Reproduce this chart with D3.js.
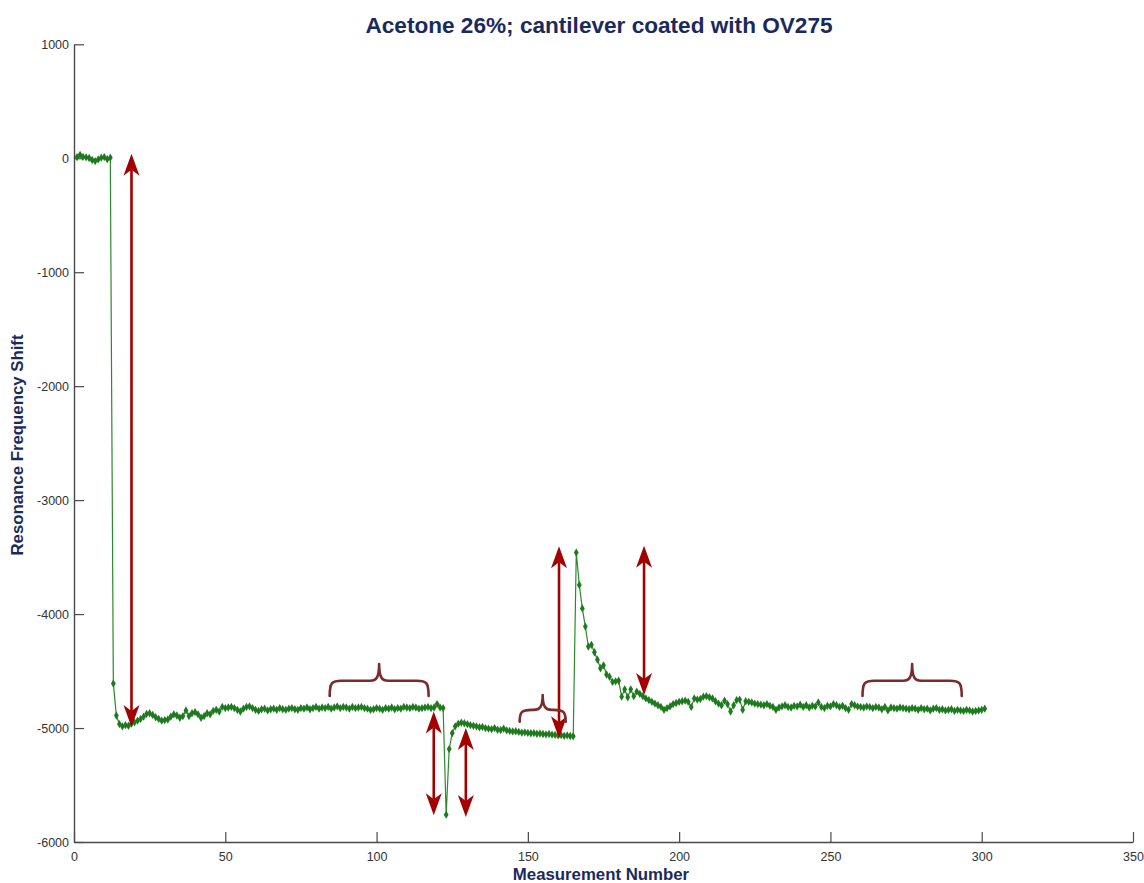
<!DOCTYPE html>
<html>
<head>
<meta charset="utf-8">
<script src="https://cdn.jsdelivr.net/npm/d3@7"></script>
<style>
  html, body { margin: 0; padding: 0; background: #fff; }
  svg { display: block; }
  text { font-family: "Liberation Sans", Arial, sans-serif; }
</style>
</head>
<body>
<svg id="chart" width="1144" height="883"></svg>
<script>
// Resonance frequency shift, one value per measurement (starting at measurement 1)
const shiftValues = [].concat(
  [10, 30, 12, 8, 2, -15, -25, -10, 5, 10, -8, 5],
  [-4610, -4890, -4965, -4985, -4975, -4980, -4960, -4950],
  [-4935, -4920, -4900, -4875, -4870, -4885, -4905, -4920, -4935, -4930],
  [-4925, -4900, -4880, -4890, -4910, -4895, -4845, -4895, -4870, -4860],
  [-4880, -4910, -4895, -4870, -4880, -4850, -4840, -4855, -4815, -4825],
  [-4820, -4815, -4825, -4840, -4855, -4830, -4815, -4810, -4825, -4840],
  [-4850, -4835, -4830, -4845, -4835, -4830, -4840, -4825, -4835, -4840],
  [-4830, -4825, -4835, -4840, -4825, -4830, -4820, -4835, -4825, -4815],
  [-4830, -4820, -4825, -4815, -4830, -4820, -4810, -4825, -4815, -4820],
  [-4830, -4815, -4825, -4820, -4815, -4825, -4830, -4840, -4835, -4825],
  [-4830, -4840, -4825, -4830, -4820, -4835, -4825, -4830, -4815, -4820],
  [-4825, -4815, -4820, -4830, -4825, -4820, -4815, -4825, -4820, -4790, -4820],
  [-4825, -5760, -5185, -5045, -4985, -4962, -4953, -4958, -4965],
  [-4975, -4980, -4985, -4993, -4990, -5000, -5005, -5010, -5000, -5015],
  [-5017, -5005, -5020, -5025, -5030, -5028, -5034, -5040, -5038, -5042],
  [-5046, -5044, -5050, -5048, -5052, -5055, -5052, -5058, -5060, -5065],
  [-5062, -5068, -5065, -5070, -5072],
  [-3460],
  [-3745, -3950, -4110, -4285, -4270, -4335, -4400, -4475, -4450, -4530, -4550, -4595, -4590, -4585],
  [-4725, -4660, -4730, -4660, -4720, -4680, -4700, -4720, -4740, -4755],
  [-4770, -4785, -4800, -4815, -4840, -4825, -4810, -4790, -4780, -4770],
  [-4765, -4760, -4770, -4815, -4740, -4750, -4745, -4725, -4720, -4730],
  [-4740, -4765, -4785, -4800, -4760, -4790, -4855, -4800, -4755, -4750],
  [-4840, -4765, -4770, -4775, -4785, -4790, -4795, -4800, -4790, -4805],
  [-4815, -4840, -4820, -4810, -4800, -4815, -4820, -4805, -4810, -4795],
  [-4815, -4800, -4820, -4805, -4810, -4775, -4815, -4825, -4805, -4810],
  [-4790, -4800, -4815, -4805, -4825, -4840, -4790, -4800, -4810, -4815],
  [-4820, -4810, -4815, -4825, -4815, -4820, -4835, -4815, -4845, -4820],
  [-4825, -4830, -4820, -4825, -4830, -4835, -4825, -4830, -4840, -4825],
  [-4835, -4830, -4845, -4830, -4825, -4840, -4835, -4845, -4840, -4835],
  [-4850, -4840, -4845, -4850, -4840, -4845, -4855, -4850, -4845, -4840, -4830]
);
const measurementNumbers = shiftValues.map((_, i) => i + 1);

// Axis ticks
const xTicks = [0, 50, 100, 150, 200, 250, 300, 350];
const yTicks = [1000, 0, -1000, -2000, -3000, -4000, -5000, -6000];

// Double-headed arrows marking the frequency steps (measurement, top value, bottom value)
const arrowAt = [19, 118.9, 129.5, 160.3, 188.4];
const arrowTop = [40, -4855, -5000, -3405, -3400];
const arrowBottom = [-4990, -5765, -5780, -5090, -4710];

// Curly braces over the plateaus (start, end, level, foot level, peak level)
const braceStart = [84.5, 147.3, 260.6];
const braceEnd = [117.2, 162.5, 293.4];
const braceLevel = [-4585, -4841, -4585];
const braceFoot = [-4718, -4944, -4718];
const braceTip = [-4438, -4710, -4438];

const titleText = "Acetone 26%; cantilever coated with OV275";
const xLabel = "Measurement Number";
const yLabel = "Resonance Frequency Shift";

const svg = d3.select("#chart");
const plotLeft = 74, plotRight = 1133, plotTop = 44.3, plotBottom = 842;

const x = d3.scaleLinear().domain([0, 350]).range([plotLeft, plotRight]);
const y = d3.scaleLinear().domain([-6000, 1000]).range([plotBottom, plotTop]);

const axisColor = "#4a4a4a";
const labelColor = "#333";
const navy = "#1a2a5c";
const arrowColor = "#a30000";
const braceColor = "#7a2b2b";
const lineColor = "#2b8a2b";
const markerColor = "#1f7a1f";

// Axes (ticks point into the plot); plain hyphen for negative labels
const plainFormat = d => String(d);
const xAxis = svg.append("g")
  .attr("transform", `translate(0,${plotBottom})`)
  .call(d3.axisBottom(x).tickValues(xTicks).tickSize(-10).tickPadding(8).tickSizeOuter(0).tickFormat(plainFormat));
const yAxis = svg.append("g")
  .attr("transform", `translate(${plotLeft},0)`)
  .call(d3.axisLeft(y).tickValues(yTicks).tickSize(-10).tickPadding(5).tickSizeOuter(0).tickFormat(plainFormat));

[xAxis, yAxis].forEach(g => {
  g.select(".domain").attr("stroke", axisColor).attr("stroke-width", 1.4);
  g.selectAll(".tick line").attr("stroke", axisColor).attr("stroke-width", 1.2);
  g.selectAll(".tick text").attr("fill", labelColor)
    .style("font-family", "'Liberation Sans', Arial, sans-serif").style("font-size", "12.5px");
});
xAxis.selectAll(".tick text").attr("dy", "0.9em");

// Data line and markers
const line = d3.line().x((d, i) => x(measurementNumbers[i])).y(d => y(d));
svg.append("path")
  .datum(shiftValues)
  .attr("d", line)
  .attr("fill", "none")
  .attr("stroke", lineColor)
  .attr("stroke-width", 1.2);

const diamond = d3.symbol().type(d3.symbolDiamond).size(20);
svg.append("g").selectAll("path")
  .data(shiftValues)
  .join("path")
  .attr("d", diamond)
  .attr("transform", (d, i) => `translate(${x(measurementNumbers[i])},${y(d)})`)
  .attr("fill", markerColor);

// Arrows
const headLen = 22, headW = 16, notch = 6;
function headPath(tx, ty, dir) {
  // dir = 1: tip at the top, -1: tip at the bottom
  const b = ty + dir * headLen;
  const n = ty + dir * (headLen - notch);
  return `M${tx},${ty}L${tx - headW / 2},${b}L${tx},${n}L${tx + headW / 2},${b}Z`;
}
const arrows = svg.append("g");
arrowAt.forEach((m, i) => {
  const ax = x(m), y1 = y(arrowTop[i]), y2 = y(arrowBottom[i]);
  arrows.append("line")
    .attr("x1", ax).attr("x2", ax)
    .attr("y1", y1 + headLen - notch).attr("y2", y2 - headLen + notch)
    .attr("stroke", arrowColor).attr("stroke-width", 2.6);
  arrows.append("path").attr("d", headPath(ax, y1, 1)).attr("fill", arrowColor);
  arrows.append("path").attr("d", headPath(ax, y2, -1)).attr("fill", arrowColor);
});

// Braces
const braces = svg.append("g");
braceStart.forEach((s, i) => {
  const x0 = x(s), x1 = x(braceEnd[i]), xm = (x0 + x1) / 2;
  const yl = y(braceLevel[i]), yf = y(braceFoot[i]), yt = y(braceTip[i]);
  const r = Math.min(9, (yf - yl));
  const p = d3.path();
  p.moveTo(x0, yf);
  p.bezierCurveTo(x0, yl + 2, x0 + 2, yl, x0 + r + 3, yl);
  p.lineTo(xm - 9, yl);
  p.bezierCurveTo(xm - 3, yl, xm, yl - 3, xm, yt);
  p.moveTo(xm, yt);
  p.bezierCurveTo(xm, yl - 3, xm + 3, yl, xm + 9, yl);
  p.lineTo(x1 - r - 3, yl);
  p.bezierCurveTo(x1 - 2, yl, x1, yl + 2, x1, yf);
  braces.append("path")
    .attr("d", p.toString())
    .attr("fill", "none")
    .attr("stroke", braceColor)
    .attr("stroke-width", 2.6)
    .attr("stroke-linecap", "round");
});

// Titles
svg.append("text")
  .attr("x", 599).attr("y", 33)
  .attr("text-anchor", "middle")
  .attr("fill", navy)
  .style("font-weight", "bold").style("font-size", "22.6px")
  .text(titleText);

svg.append("text")
  .attr("x", 601).attr("y", 880)
  .attr("text-anchor", "middle")
  .attr("fill", navy)
  .style("font-weight", "bold").style("font-size", "16.8px")
  .text(xLabel);

svg.append("text")
  .attr("transform", `translate(23,445) rotate(-90)`)
  .attr("text-anchor", "middle")
  .attr("fill", navy)
  .style("font-weight", "bold").style("font-size", "16.8px")
  .text(yLabel);
</script>
</body>
</html>
